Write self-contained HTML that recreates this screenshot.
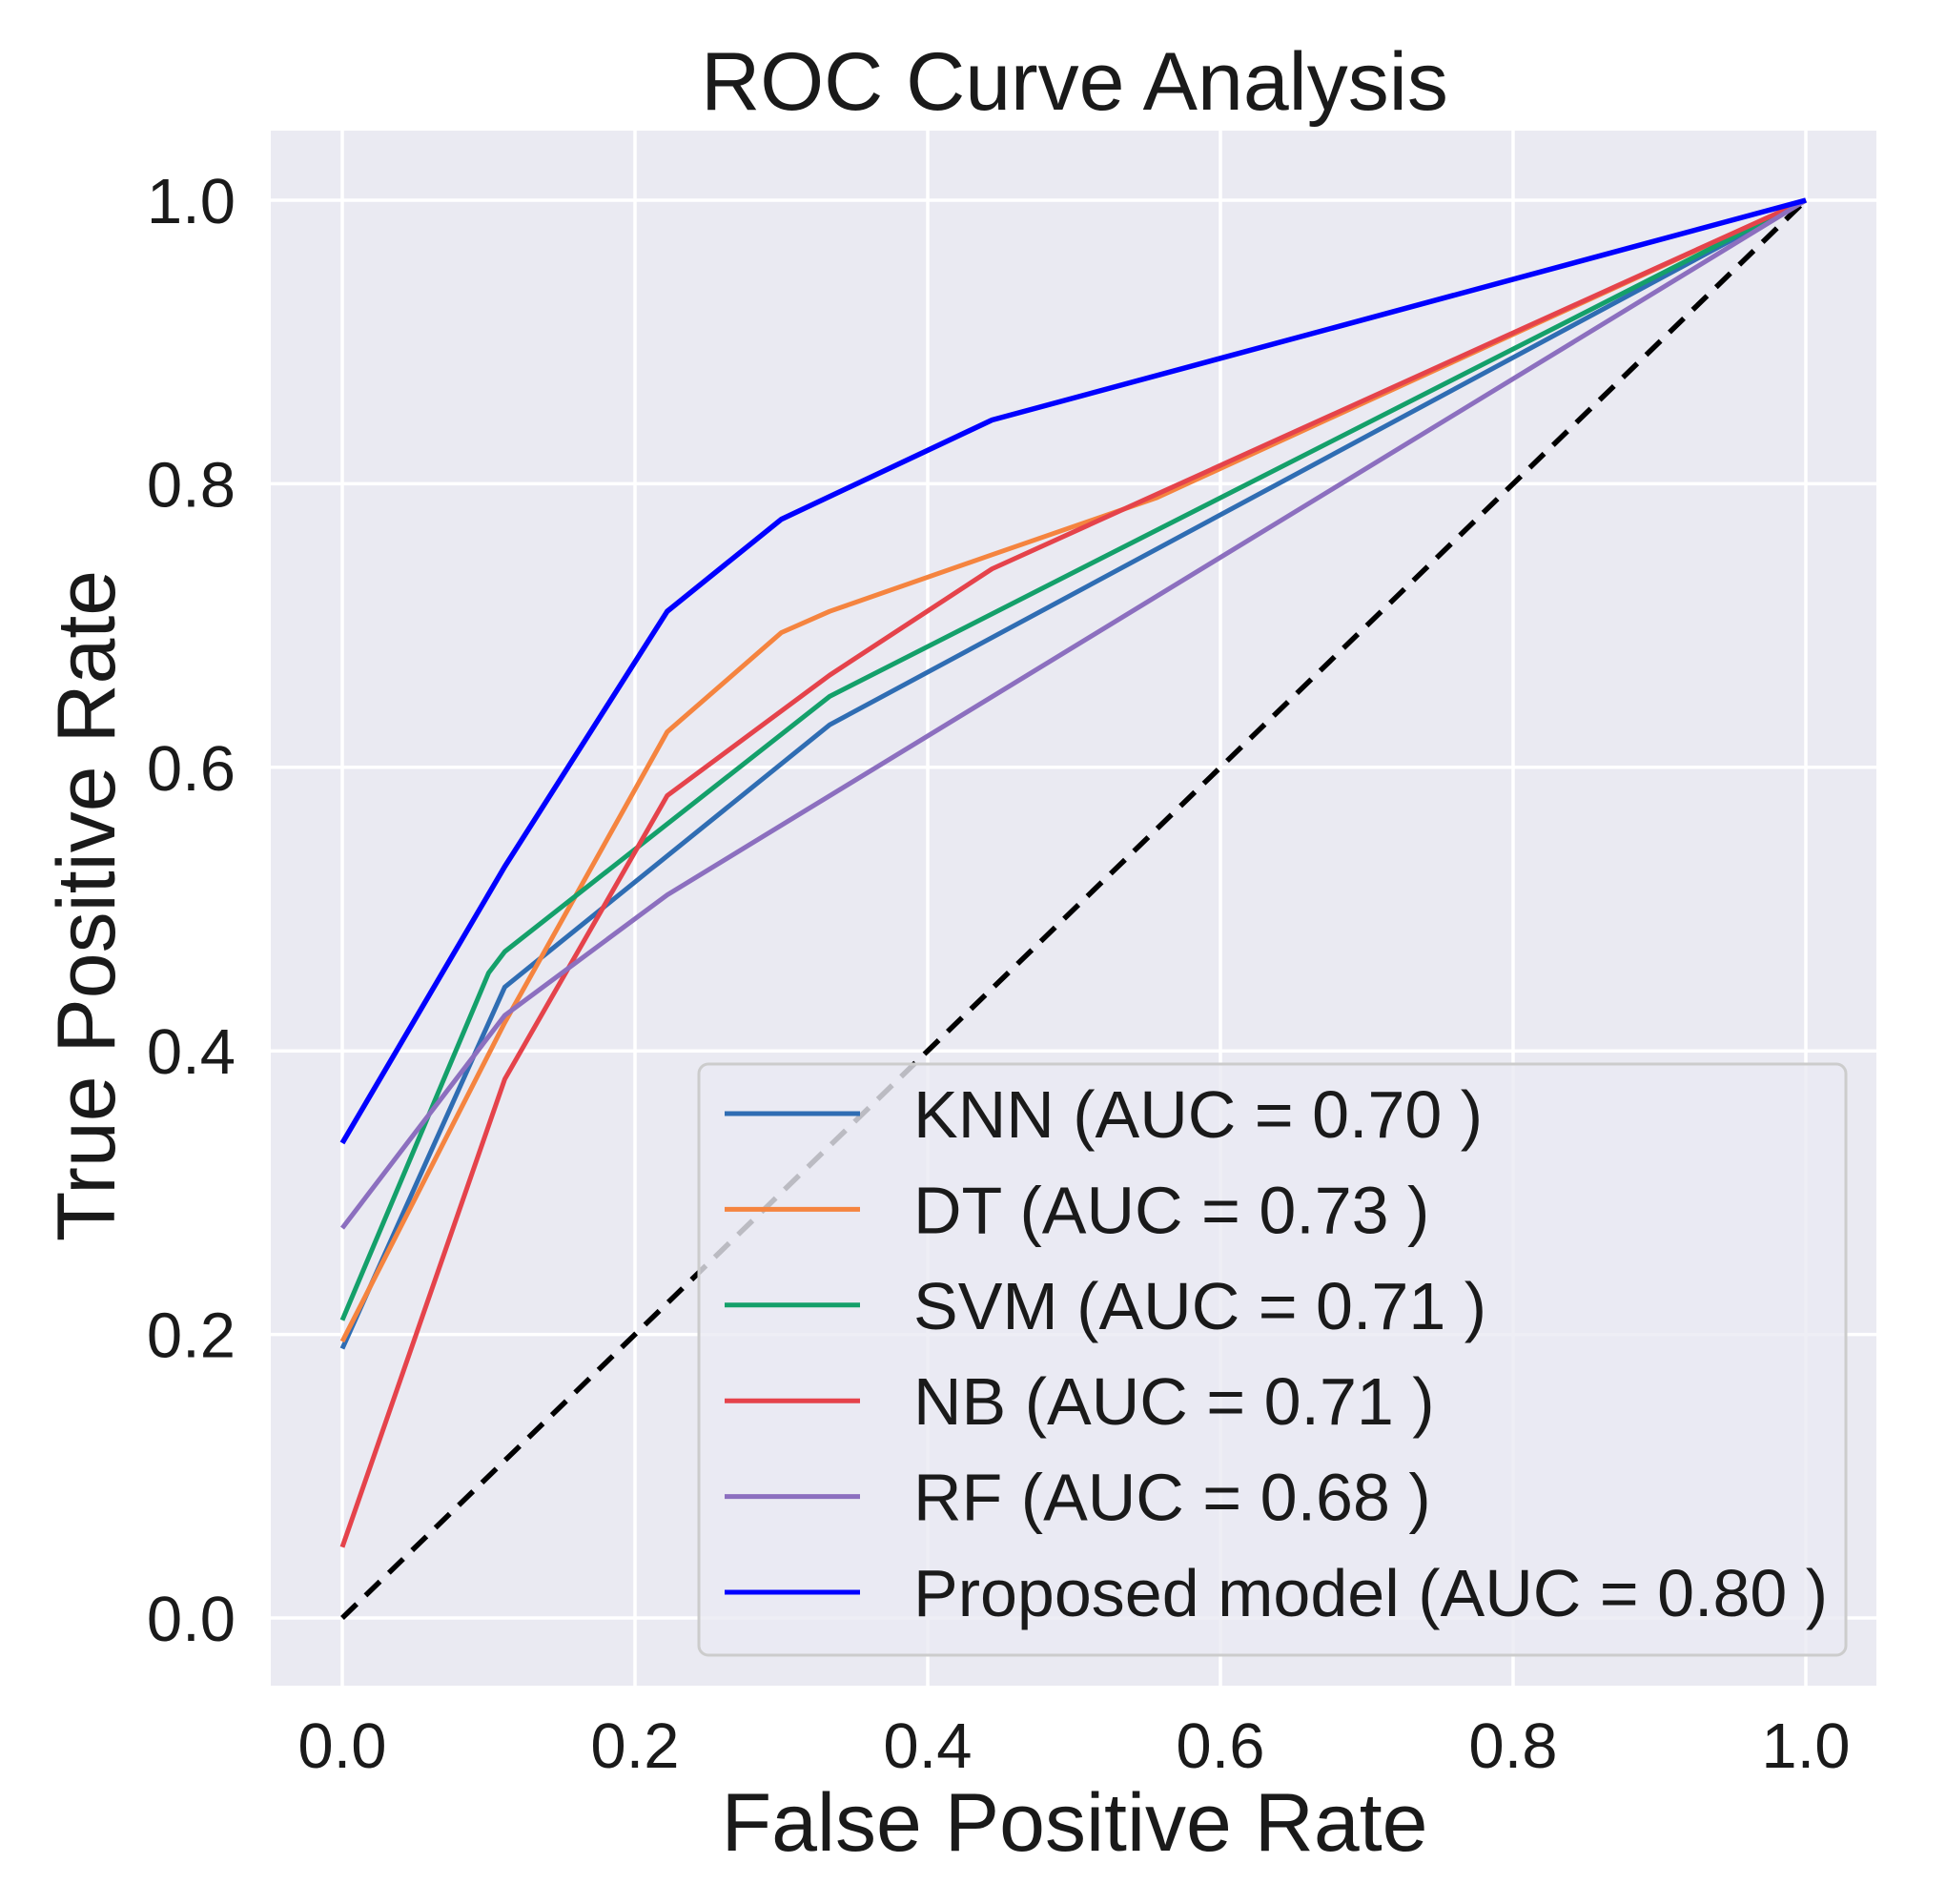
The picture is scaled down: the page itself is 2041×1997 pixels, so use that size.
<!DOCTYPE html>
<html><head><meta charset="utf-8"><style>
html,body{margin:0;padding:0;background:#fff;}
svg{display:block;font-family:"Liberation Sans",Arial,sans-serif;}
</style></head><body>
<svg id="chart" width="2041" height="1997" viewBox="0 0 2041 1997">
<rect x="284" y="137" width="1684" height="1631" fill="#eaeaf2"/>
<g id="grid"></g>
<g id="series"></g>
<g id="ticks"></g>
<text x="1127" y="115" font-size="86" text-anchor="middle" fill="#1a1a1a">ROC Curve Analysis</text>
<text x="1127" y="1941" font-size="86" text-anchor="middle" fill="#1a1a1a">False Positive Rate</text>
<text x="0" y="0" font-size="86" text-anchor="middle" fill="#1a1a1a" transform="translate(120,950) rotate(-90)">True Positive Rate</text>
<g id="legend"></g>
</svg>
<script>
const xTicks = [0, 0.2, 0.4, 0.6, 0.8, 1.0];
const yTicks = [0, 0.2, 0.4, 0.6, 0.8, 1.0];
const seriesNames = ["KNN", "DT", "SVM", "NB", "RF", "Proposed model"];
const aucValues = ["0.70", "0.73", "0.71", "0.71", "0.68", "0.80"];
const knnFpr = [0, 0.111, 0.333, 1];
const knnTpr = [0.19, 0.445, 0.63, 1];
const dtFpr = [0, 0.111, 0.222, 0.30, 0.333, 0.444, 0.556, 1];
const dtTpr = [0.195, 0.42, 0.625, 0.695, 0.71, 0.75, 0.79, 1];
const svmFpr = [0, 0.10, 0.111, 0.333, 1];
const svmTpr = [0.21, 0.455, 0.47, 0.65, 1];
const nbFpr = [0, 0.111, 0.222, 0.333, 0.444, 1];
const nbTpr = [0.05, 0.38, 0.58, 0.665, 0.74, 1];
const rfFpr = [0, 0.111, 0.222, 1];
const rfTpr = [0.275, 0.425, 0.51, 1];
const propFpr = [0, 0.111, 0.222, 0.30, 0.444, 1];
const propTpr = [0.335, 0.53, 0.71, 0.775, 0.845, 1];

const NS = "http://www.w3.org/2000/svg";
function xs(v){ return 359 + v * 1535; }
function ys(v){ return 1697 - v * 1487; }
function mk(tag, attrs, parent){
  const e = document.createElementNS(NS, tag);
  for (const k in attrs) e.setAttribute(k, attrs[k]);
  parent.appendChild(e); return e;
}
const grid = document.getElementById('grid');
const ticks = document.getElementById('ticks');
xTicks.forEach(t => {
  const l = mk('line', {x1: xs(t), x2: xs(t), y1: 137, y2: 1768, stroke: '#fff', 'stroke-width': 3.5}, grid);
  
  
  const tx = mk('text', {x: xs(t), y: 1854, 'font-size': 67, 'text-anchor': 'middle', fill: '#1a1a1a'}, ticks);
  tx.textContent = t.toFixed(1);
  
  
});
yTicks.forEach(t => {
  const l = mk('line', {x1: 284, x2: 1968, y1: ys(t), y2: ys(t), stroke: '#fff', 'stroke-width': 3.5}, grid);
  
  
  const tx = mk('text', {x: 247, y: ys(t) + 24, 'font-size': 67, 'text-anchor': 'end', fill: '#1a1a1a'}, ticks);
  tx.textContent = t.toFixed(1);
  
  
});
const series = document.getElementById('series');
const diag = mk('line', {x1: xs(0), y1: ys(0), x2: xs(1), y2: ys(1), stroke: '#000', 'stroke-width': 5.5, 'stroke-dasharray': '21 13'}, series);


const allFpr = [knnFpr, dtFpr, svmFpr, nbFpr, rfFpr, propFpr];
const allTpr = [knnTpr, dtTpr, svmTpr, nbTpr, rfTpr, propTpr];
const colors = ['#2f6db3', '#f5843f', '#14a06a', '#e5434b', '#8c6fbf', '#0000ff'];
const keys = ['knn', 'dt', 'svm', 'nb', 'rf', 'proposed-model'];
allFpr.forEach((f, i) => {
  const pts = f.map((v, j) => xs(v).toFixed(1) + ',' + ys(allTpr[i][j]).toFixed(1)).join(' ');
  const p = mk('polyline', {points: pts, fill: 'none', stroke: colors[i], 'stroke-width': i === 5 ? 5.5 : 5, 'stroke-linejoin': 'round'}, series);
  
  
});
const legend = document.getElementById('legend');
const box = mk('rect', {x: 733, y: 1116, width: 1203, height: 620, rx: 10, fill: '#eaeaf2', 'fill-opacity': 0.8, stroke: '#cccccc', 'stroke-width': 3}, legend);


seriesNames.forEach((n, i) => {
  const y = 1168 + i * 100.4;
  const l = mk('line', {x1: 760, x2: 902, y1: y, y2: y, stroke: colors[i], 'stroke-width': 5}, legend);
  
  
  const t = mk('text', {x: 958, y: y + 25, 'font-size': 70, fill: '#1a1a1a'}, legend);
  t.textContent = n + ' (AUC = ' + aucValues[i] + ' )';
  
  
});
</script>
</body></html>
